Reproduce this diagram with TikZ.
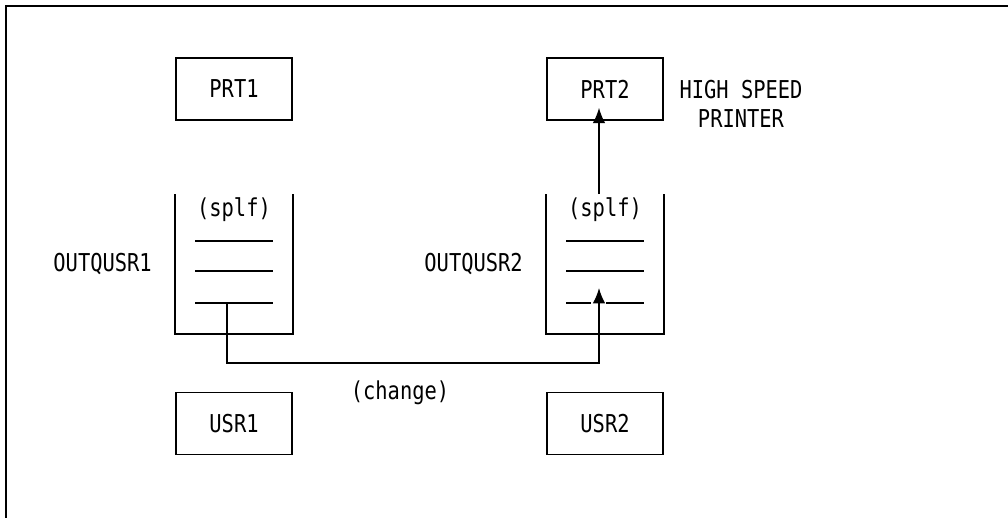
\documentclass[tikz,border=0pt]{standalone}
\usepackage{fontspec}
\setmonofont[FakeStretch=0.83]{DejaVu Sans Mono}
\usepackage{tikz}
\usetikzlibrary{arrows,positioning,calc,arrows.meta}

\begin{document}
\begin{tikzpicture}[line width=1.1pt,
    every node/.style={font=\ttfamily\fontsize{17.5}{20.6}\selectfont},
    box/.style={draw, minimum width=2.9cm, minimum height=1.55cm},
    queue/.style={minimum width=2.9cm, minimum height=3.45cm},
    lbl/.style={draw=none, align=center}
]
\useasboundingbox (0,0) rectangle (25.2,-12.95);
% Cadre
\draw (25.2,-0.15) -- (0.15,-0.15) -- (0.15,-12.95);

% Imprimantes
\node[box] (prt1) at (5.85,-2.225) {PRT1};
\node[box] (prt2) at (15.125,-2.225) {PRT2};
\node[lbl] (hsp) at (18.525,-2.59) {HIGH SPEED\\PRINTER};

% Files d'attente
\node[queue] (q1) at (5.85,-6.6) {};
\node[queue] (q2) at (15.125,-6.6) {};
\draw (q1.north west) -- (q1.south west) -- (q1.south east) -- (q1.north east);
\draw (q2.north west) -- (q2.south west) -- (q2.south east) -- (q2.north east);
\node[lbl] (splf1) at (5.85,-5.25) {(splf)};
\node[lbl] (splf2) at (15.125,-5.25) {(splf)};
\node[lbl, left=0.45cm of q1] (oq1) {OUTQUSR1};
\node[lbl, left=0.45cm of q2] (oq2) {OUTQUSR2};

% Entrees
\foreach \q/\x in {q1/5.85, q2/15.125} {
  \foreach \y in {-6.025,-6.775} {
    \draw (\x-0.975,\y) -- (\x+0.975,\y);
  }
}
\coordinate (e1) at (5.675,-7.575);
\coordinate (e2) at (14.975,-7.575);
\draw (4.875,-7.575) -- (6.825,-7.575);
\draw (14.15,-7.575) -- (14.78,-7.575);
\draw (15.15,-7.575) -- (16.1,-7.575);

% Utilisateurs
\node[box] (usr1) at (5.85,-10.59) {USR1};
\node[box] (usr2) at (15.125,-10.59) {USR2};
\node[lbl] (chg) at (10.0,-9.825) {(change)};

\draw[-{Latex[length=11pt,width=9pt]}] (e1) |- (14.975,-9.075) -- ([yshift=0.375cm]e2);
\draw[-{Latex[length=11pt,width=9pt]}] (14.975,-4.85) -- ([xshift=-0.15cm,yshift=0.325cm]prt2.south);
\end{tikzpicture}
\end{document}
